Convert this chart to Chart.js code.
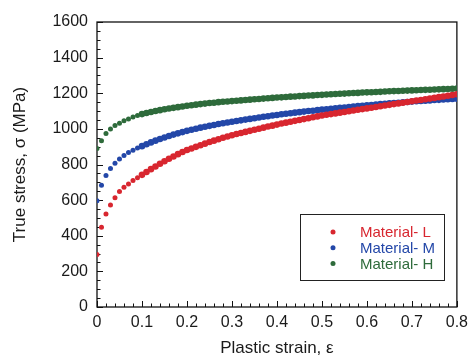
<!DOCTYPE html>
<html>
<head>
<meta charset="utf-8">
<style>
  html, body { margin: 0; padding: 0; background: #fff; }
  #wrap { width: 474px; height: 359px; }
</style>
<script src="https://cdn.jsdelivr.net/npm/chart.js@4.4.1/dist/chart.umd.min.js"></script>
</head>
<body>
<div id="wrap"><canvas id="curveChart" width="474" height="359"></canvas></div>
<script>
// plastic strain (x) and true stress (MPa)
const strain = [
  0, 0.01, 0.02, 0.03, 0.04, 0.05, 0.06, 0.07, 0.08, 0.09,
  0.10, 0.11, 0.12, 0.13, 0.14, 0.15, 0.16, 0.17, 0.18, 0.19,
  0.20, 0.21, 0.22, 0.23, 0.24, 0.25, 0.26, 0.27, 0.28, 0.29,
  0.30, 0.31, 0.32, 0.33, 0.34, 0.35, 0.36, 0.37, 0.38, 0.39,
  0.40, 0.41, 0.42, 0.43, 0.44, 0.45, 0.46, 0.47, 0.48, 0.49,
  0.50, 0.51, 0.52, 0.53, 0.54, 0.55, 0.56, 0.57, 0.58, 0.59,
  0.60, 0.61, 0.62, 0.63, 0.64, 0.65, 0.66, 0.67, 0.68, 0.69,
  0.70, 0.71, 0.72, 0.73, 0.74, 0.75, 0.76, 0.77, 0.78, 0.79,
  0.80
];
const stressL = [
  295, 448, 522, 573, 614, 648, 672, 691, 710, 726,
  742, 758, 774, 789, 804, 818, 832, 845, 858, 870,
  881, 890, 899, 908, 917, 926, 934, 942, 950, 957,
  964, 971, 977, 983, 989, 995, 1001, 1007, 1013, 1018,
  1024, 1030, 1035, 1040, 1045, 1050, 1055, 1060, 1065, 1070,
  1075, 1079, 1083, 1087, 1091, 1095, 1099, 1103, 1107, 1111,
  1115, 1119, 1123, 1127, 1131, 1135, 1139, 1143, 1147, 1151,
  1155, 1159, 1162, 1166, 1170, 1174, 1178, 1182, 1186, 1190,
  1194
];
const stressM = [
  597, 684, 738, 777, 807, 831, 850, 867, 880, 892,
  903, 914, 924, 934, 943, 952, 960, 968, 975, 982,
  989, 995, 1001, 1007, 1012, 1017, 1022, 1027, 1032, 1036,
  1040, 1044, 1048, 1052, 1056, 1060, 1064, 1068, 1071, 1075,
  1078, 1082, 1085, 1088, 1091, 1094, 1097, 1100, 1102, 1105,
  1108, 1110, 1113, 1115, 1118, 1120, 1123, 1125, 1128, 1130,
  1132, 1134, 1137, 1139, 1141, 1143, 1145, 1147, 1149, 1151,
  1153, 1155, 1157, 1158, 1160, 1162, 1163, 1165, 1166, 1168,
  1169
];
const stressH = [
  890, 933, 974, 1000, 1019, 1032, 1045, 1056, 1066, 1075,
  1083, 1089, 1095, 1100, 1105, 1110, 1114, 1118, 1122, 1126,
  1130, 1133, 1136, 1139, 1142, 1145, 1147, 1150, 1152, 1154,
  1156, 1158, 1160, 1162, 1164, 1166, 1168, 1170, 1172, 1174,
  1176, 1177, 1179, 1181, 1182, 1184, 1185, 1187, 1188, 1190,
  1191, 1193, 1194, 1196, 1197, 1198, 1200, 1201, 1202, 1204,
  1205, 1206, 1207, 1208, 1210, 1211, 1212, 1213, 1214, 1215,
  1216, 1217, 1218, 1219, 1220, 1221, 1222, 1223, 1224, 1225,
  1226
];
const seriesNames = ['Material- L', 'Material- M', 'Material- H'];
const seriesColors = ['#d8262f', '#2347a8', '#2e6b3b'];

const toPoints = (ys) => strain.map((x, i) => ({ x: x, y: ys[i] }));

// frame + inward ticks (major and minor), drawn under the dots
const frameTicks = {
  id: 'frameTicks',
  beforeDatasetsDraw(chart) {
    const { ctx, chartArea: a, scales } = chart;
    ctx.save();
    ctx.strokeStyle = '#111';
    ctx.lineWidth = 1;
    ctx.beginPath();
    for (let v = 0; v <= 1600; v += 50) {
      const y = Math.round(scales.y.getPixelForValue(v)) + 0.5;
      const len = v % 200 === 0 ? 6 : 3.5;
      ctx.moveTo(a.left, y);
      ctx.lineTo(a.left + len, y);
    }
    for (let k = 0; k <= 40; k++) {
      const x = Math.round(scales.x.getPixelForValue(k * 0.02)) + 0.5;
      const len = k % 5 === 0 ? 6 : 3.5;
      ctx.moveTo(x, a.bottom);
      ctx.lineTo(x, a.bottom - len);
    }
    ctx.stroke();
    ctx.lineWidth = 1.3;
    ctx.strokeRect(a.left, a.top, a.right - a.left, a.bottom - a.top);
    ctx.restore();
  }
};

// boxed legend inside the plot, text in series colour
const boxLegend = {
  id: 'boxLegend',
  afterDraw(chart) {
    const ctx = chart.ctx;
    ctx.save();
    ctx.strokeStyle = '#222';
    ctx.lineWidth = 1;
    ctx.strokeRect(300.5, 214.5, 144, 66);
    ctx.font = '15px "Liberation Sans", Arial, sans-serif';
    ctx.textBaseline = 'middle';
    chart.data.datasets.forEach((ds, i) => {
      const y = 232 + i * 15.7;
      ctx.fillStyle = ds.backgroundColor;
      ctx.beginPath();
      ctx.arc(333, y, 2.5, 0, Math.PI * 2);
      ctx.fill();
      ctx.fillText(ds.label, 360, y + 1);
    });
    ctx.restore();
  }
};

new Chart(document.getElementById('curveChart'), {
  type: 'scatter',
  data: {
    datasets: [stressL, stressM, stressH].map((ys, i) => ({
      label: seriesNames[i],
      data: toPoints(ys),
      backgroundColor: seriesColors[i],
      borderColor: seriesColors[i],
      borderWidth: 0,
      // the early points are separate dots, the rest merge into a band
      pointRadius: (c) => (c.raw && c.raw.x > 0.095 ? 3.3 : 2.5),
      pointHoverRadius: 3,
      showLine: false
    }))
  },
  options: {
    responsive: false,
    animation: false,
    layout: { padding: { left: 0, right: 14, top: 22, bottom: 0 } },
    plugins: { legend: { display: false }, tooltip: { enabled: false } },
    scales: {
      x: {
        type: 'linear',
        min: 0,
        max: 0.8,
        border: { display: false },
        grid: { display: false, drawTicks: false },
        ticks: {
          stepSize: 0.1,
          padding: 6,
          color: '#1a1a1a',
          font: { family: '"Liberation Sans", Arial, sans-serif', size: 16 },
          maxRotation: 0,
          callback: (v) => (v === 0 ? '0' : v.toFixed(1))
        },
        title: {
          display: true,
          text: 'Plastic strain, ε',
          color: '#1a1a1a',
          padding: { top: 0, bottom: 0 },
          font: { family: '"Liberation Sans", Arial, sans-serif', size: 17 }
        },
        afterFit: (s) => { s.height = 52; }
      },
      y: {
        min: 0,
        max: 1600,
        border: { display: false },
        grid: { display: false, drawTicks: false },
        ticks: {
          stepSize: 200,
          padding: 9,
          color: '#1a1a1a',
          font: { family: '"Liberation Sans", Arial, sans-serif', size: 16 },
          callback: (v) => String(v)
        },
        title: {
          display: true,
          text: 'True stress, σ (MPa)',
          color: '#1a1a1a',
          padding: { top: 10, bottom: 0 },
          font: { family: '"Liberation Sans", Arial, sans-serif', size: 17 }
        },
        afterFit: (s) => { s.width = 97; }
      }
    }
  },
  plugins: [frameTicks, boxLegend]
});
</script>
</body>
</html>
